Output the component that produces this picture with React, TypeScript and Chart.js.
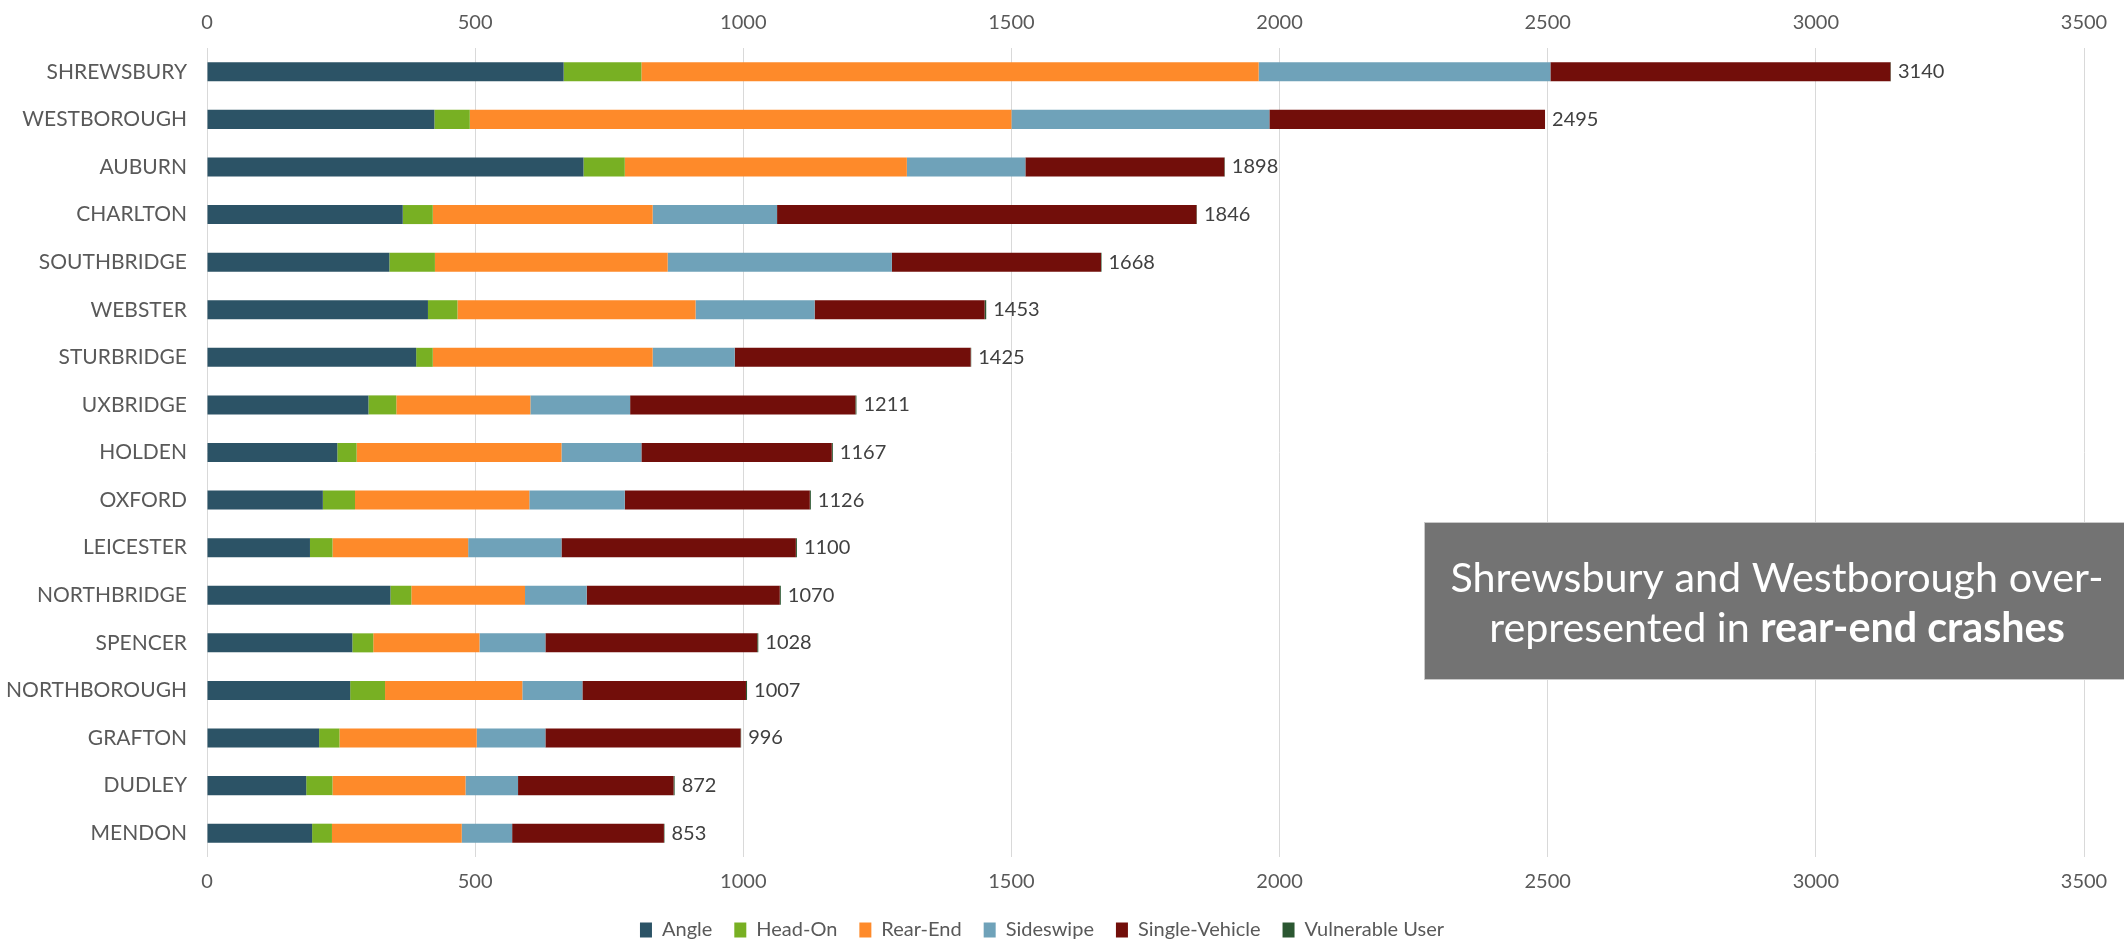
import { useEffect, useRef } from 'react';
import { Chart, registerables } from 'chart.js';

Chart.register(...registerables);

const categories = [
  'SHREWSBURY', 'WESTBOROUGH', 'AUBURN', 'CHARLTON', 'SOUTHBRIDGE', 'WEBSTER',
  'STURBRIDGE', 'UXBRIDGE', 'HOLDEN', 'OXFORD', 'LEICESTER', 'NORTHBRIDGE',
  'SPENCER', 'NORTHBOROUGH', 'GRAFTON', 'DUDLEY', 'MENDON',
];

const angle = [665, 424, 702, 365, 340, 412, 390, 301, 243, 216, 192, 342, 271, 267, 209, 185, 196];
const headOn = [145, 66, 77, 56, 85, 55, 31, 52, 36, 60, 42, 39, 39, 65, 38, 49, 37];
const rearEnd = [1151, 1010, 526, 410, 434, 444, 410, 250, 382, 325, 253, 212, 198, 256, 256, 248, 242];
const sideswipe = [544, 481, 221, 232, 418, 222, 153, 186, 149, 178, 174, 115, 123, 112, 128, 98, 94];
const singleVehicle = [634, 514, 371, 782, 390, 317, 440, 420, 355, 345, 437, 360, 395, 305, 364, 290, 283];
const vulnerableUser = [1, 0, 1, 1, 1, 3, 1, 2, 2, 2, 2, 2, 2, 2, 1, 2, 1];
const totals = [3140, 2495, 1898, 1846, 1668, 1453, 1425, 1211, 1167, 1126, 1100, 1070, 1028, 1007, 996, 872, 853];

const seriesNames = ['Angle', 'Head-On', 'Rear-End', 'Sideswipe', 'Single-Vehicle', 'Vulnerable User'];
const seriesColors = ['#2C5366', '#78B023', '#FE8A2A', '#6FA2B9', '#720E0A', '#2B5731'];

const xMin = 0;
const xMax = 3500;
const xStep = 500;

const annotationLine1 = 'Shrewsbury and Westborough over-';
const annotationLine2a = 'represented in ';
const annotationLine2b = 'rear-end crashes';

const FONT = 'Lato, "Open Sans", "DejaVu Sans", sans-serif';

const totalsPlugin = {
  id: 'totalsLabels',
  afterDatasetsDraw(chart: any) {
    const { ctx } = chart;
    const xs = chart.scales.x;
    const ys = chart.scales.y;
    ctx.save();
    ctx.font = `20px ${FONT}`;
    ctx.fillStyle = '#404040';
    ctx.textAlign = 'left';
    ctx.textBaseline = 'middle';
    totals.forEach((t, i) => {
      const x = xs.getPixelForValue(t) + 7;
      const y = ys.getPixelForValue(i);
      ctx.fillText(String(t), x, y);
    });
    ctx.restore();
  },
};

const annotationPlugin = {
  id: 'annotationBox',
  afterDraw(chart: any) {
    const { ctx, width } = chart;
    const left = 1424;
    const top = 522;
    const bottom = 680;
    ctx.save();
    ctx.fillStyle = '#737373';
    ctx.fillRect(left, top, width - left, bottom - top);
    ctx.strokeStyle = '#c9c9c9';
    ctx.lineWidth = 1;
    ctx.strokeRect(left + 0.5, top + 0.5, width - left, bottom - top - 1);

    const targetW = 653;
    ctx.font = `40px ${FONT}`;
    const w40 = ctx.measureText(annotationLine1).width;
    const size = 40 * targetW / w40;
    const cx = 1777;
    ctx.fillStyle = '#ffffff';
    ctx.textBaseline = 'alphabetic';
    ctx.textAlign = 'left';
    ctx.font = `${size}px ${FONT}`;
    const l1 = ctx.measureText(annotationLine1).width;
    ctx.fillText(annotationLine1, cx - l1 / 2, 592);
    ctx.font = `${size}px ${FONT}`;
    const wa = ctx.measureText(annotationLine2a).width;
    ctx.font = `bold ${size}px ${FONT}`;
    const wb = ctx.measureText(annotationLine2b).width;
    const start = cx - (wa + wb) / 2;
    ctx.font = `${size}px ${FONT}`;
    ctx.fillText(annotationLine2a, start, 642);
    ctx.font = `bold ${size}px ${FONT}`;
    ctx.fillText(annotationLine2b, start + wa, 642);
    ctx.restore();
  },
};

const legendShiftPlugin = {
  id: 'legendShift',
  afterLayout(chart: any) {
    if (chart.legend) {
      chart.legend.top += 7;
      chart.legend.bottom += 7;
    }
  },
};

const plainTick = (v: any) => String(v);

export default function App() {
  const canvasRef = useRef<HTMLCanvasElement | null>(null);

  useEffect(() => {
    document.body.style.margin = '0';
    const canvas = canvasRef.current;
    if (!canvas) return;
    const series = [angle, headOn, rearEnd, sideswipe, singleVehicle, vulnerableUser];
    const chart = new Chart(canvas, {
      type: 'bar',
      data: {
        labels: categories,
        datasets: series.map((d, i) => ({
          label: seriesNames[i],
          data: d,
          backgroundColor: seriesColors[i],
          borderWidth: 0,
          categoryPercentage: 1,
          barPercentage: 0.4,
          xAxisID: 'x',
          yAxisID: 'y',
        })),
      },
      options: {
        indexAxis: 'y',
        responsive: false,
        animation: false,
        devicePixelRatio: 1,
        layout: { padding: { left: 0, right: 40, top: 0, bottom: 0 } },
        scales: {
          x: {
            type: 'linear',
            position: 'bottom',
            stacked: true,
            min: xMin,
            max: xMax,
            ticks: { stepSize: xStep, padding: 13, color: '#595959', font: { family: FONT, size: 20 }, callback: plainTick },
            grid: { color: '#d9d9d9', lineWidth: 1, drawTicks: false },
            border: { display: false },
            afterFit(scale: any) { scale.height = 34; },
          },
          x2: {
            type: 'linear',
            position: 'top',
            min: xMin,
            max: xMax,
            ticks: { stepSize: xStep, padding: 13, color: '#595959', font: { family: FONT, size: 20 }, callback: plainTick },
            grid: { display: false, drawTicks: false },
            border: { display: false },
            afterFit(scale: any) { scale.height = 48; },
          },
          y: {
            type: 'category',
            stacked: true,
            ticks: { padding: 20, color: '#595959', font: { family: FONT, size: 21 } },
            grid: { display: false, drawTicks: false },
            border: { display: false },
            afterFit(scale: any) { scale.width = 207; },
          },
        },
        plugins: {
          legend: {
            position: 'bottom',
            labels: {
              boxWidth: 12,
              boxHeight: 15,
              padding: 22,
              color: '#595959',
              font: { family: FONT, size: 20 },
            },
          },
          tooltip: { enabled: false },
        },
      },
      plugins: [totalsPlugin, annotationPlugin, legendShiftPlugin],
    });
    return () => chart.destroy();
  }, []);

  return (
    <canvas
      ref={canvasRef}
      width={2124}
      height={943}
      style={{ display: 'block', width: 2124, height: 943 }}
    />
  );
}
